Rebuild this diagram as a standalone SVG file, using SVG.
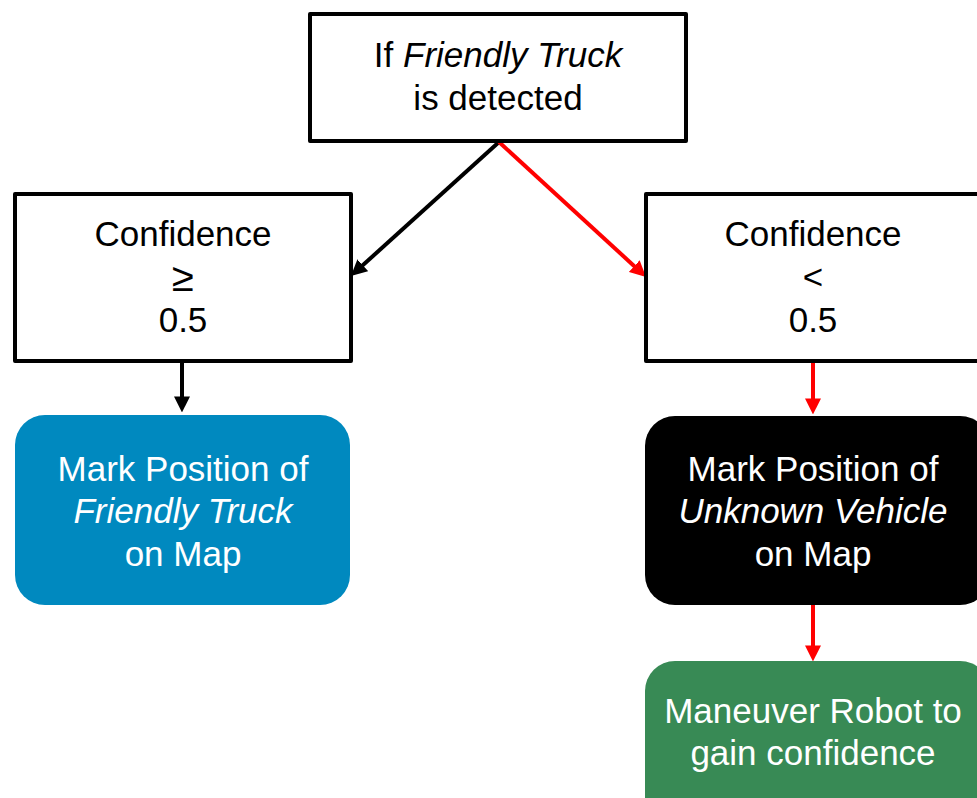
<svg xmlns="http://www.w3.org/2000/svg" width="977" height="798" viewBox="0 0 977 798">
<style>
.t{font-family:"Liberation Sans",Arial,sans-serif;font-size:35px;text-anchor:middle;}
.dk{fill:#000;}
.wh{fill:#fff;}
.it{font-style:italic;}
.box{fill:#fff;stroke:#000;stroke-width:4;stroke-linejoin:round;}
.cb{stroke:#000;stroke-width:4;fill:none;}
.cr{stroke:#ff0000;stroke-width:4;fill:none;}
</style>
<defs>
<marker id="ab" markerUnits="userSpaceOnUse" markerWidth="16" markerHeight="16" refX="4" refY="7" orient="auto" viewBox="0 0 14 14"><path d="M0,0 L14,7 L0,14 z" fill="#000"/></marker>
<marker id="ar" markerUnits="userSpaceOnUse" markerWidth="16" markerHeight="16" refX="4" refY="7" orient="auto" viewBox="0 0 14 14"><path d="M0,0 L14,7 L0,14 z" fill="#ff0000"/></marker>
</defs>
<rect width="977" height="798" fill="#fff"/>
<g id="connectors">
<line class="cb" x1="499" y1="142" x2="359.4" y2="268.3" marker-end="url(#ab)"/>
<line class="cr" x1="499" y1="142" x2="637.6" y2="269.2" marker-end="url(#ar)"/>
<line class="cb" x1="182" y1="363" x2="182" y2="401" marker-end="url(#ab)"/>
<line class="cr" x1="813" y1="362" x2="813" y2="403" marker-end="url(#ar)"/>
<line class="cr" x1="813" y1="605" x2="813" y2="650" marker-end="url(#ar)"/>
</g>
<g id="root">
<rect class="box" x="310" y="14" width="376" height="127"/>
<text class="t dk" x="498" y="67">If <tspan class="it">Friendly Truck</tspan></text>
<text class="t dk" x="498" y="110">is detected</text>
</g>
<g id="conf-high">
<rect class="box" x="15" y="194" width="336" height="167"/>
<text class="t dk" x="183" y="246">Confidence</text>
<text class="t dk" x="183" y="291" style="font-size:40px">≥</text>
<text class="t dk" x="183" y="332">0.5</text>
</g>
<g id="conf-low">
<rect class="box" x="646" y="194" width="340" height="167"/>
<text class="t dk" x="813" y="246">Confidence</text>
<text class="t dk" x="813" y="289">&lt;</text>
<text class="t dk" x="813" y="332">0.5</text>
</g>
<g id="mark-friendly">
<rect x="15" y="415" width="335" height="190" rx="30" ry="30" fill="#0089bf"/>
<text class="t wh" x="183" y="481">Mark Position of</text>
<text class="t wh it" x="183" y="523">Friendly Truck</text>
<text class="t wh" x="183" y="566">on Map</text>
</g>
<g id="mark-unknown">
<rect x="645" y="416" width="345" height="189" rx="30" ry="30" fill="#000"/>
<text class="t wh" x="813" y="481">Mark Position of</text>
<text class="t wh it" x="813" y="523">Unknown Vehicle</text>
<text class="t wh" x="813" y="566">on Map</text>
</g>
<g id="maneuver">
<rect x="645" y="661" width="345" height="170" rx="30" ry="30" fill="#388a55"/>
<text class="t wh" x="813" y="723">Maneuver Robot to</text>
<text class="t wh" x="813" y="765">gain confidence</text>
</g>
</svg>
